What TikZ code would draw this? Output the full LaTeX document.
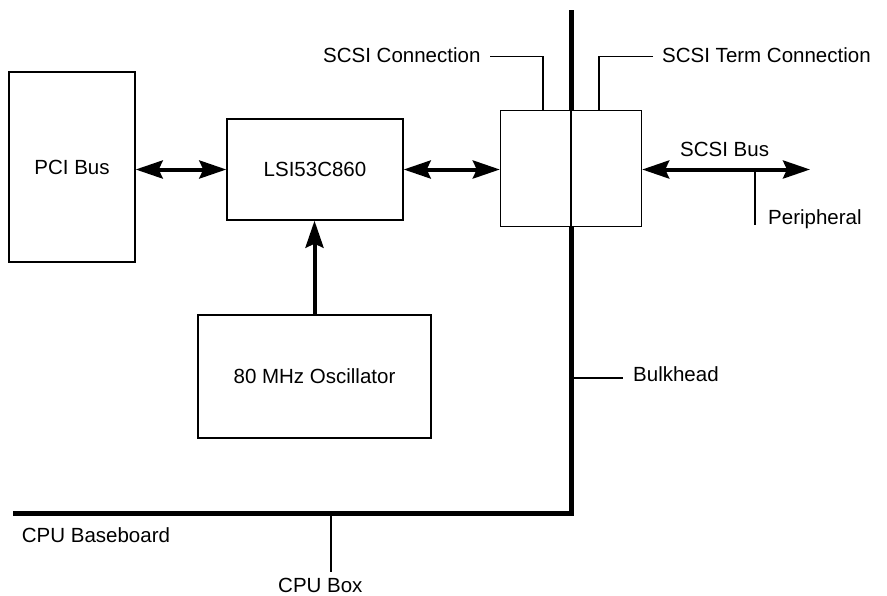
\documentclass[tikz,border=0pt]{standalone}
\usepackage{fontspec}
\setmainfont{Liberation Sans}
\usetikzlibrary{arrows.meta}
\begin{document}
\begin{tikzpicture}[x=1pt,y=-1pt,
  box/.style={draw, line width=1.4pt, inner sep=0pt, font=\fontsize{20.5}{24}\selectfont},
  lbl/.style={inner sep=0pt, anchor=base west, font=\fontsize{20.5}{24}\selectfont},
  leader/.style={line width=1.4pt},
  wall/.style={line width=5pt},
  big/.style={line width=4pt, arrows={Stealth[length=27pt,width=18pt,inset=4pt]-Stealth[length=27pt,width=18pt,inset=4pt]}},
  bigup/.style={line width=4pt, arrows={-Stealth[length=27pt,width=18pt,inset=4pt]}},
  ]
\useasboundingbox (0,0) rectangle (887,595);

% boxes
\node[box, minimum width=126pt, minimum height=190pt] (pci) at (72,167) {PCI Bus};
\node[box, minimum width=176pt, minimum height=101pt] (lsi) at (315,169.5) {LSI53C860};
\node[box, minimum width=233pt, minimum height=123pt] (osc) at (314.5,376.5) {80 MHz Oscillator};
\node[box, minimum width=141pt, minimum height=115.5pt] (conn) at (571,168.5) {};

% coordinates
\coordinate (bulktop) at (571,10);
\coordinate (corner) at (571,513.5);
\coordinate (baseleft) at (12.7,513.5);
\coordinate (busend) at (810,169.5);
\coordinate (periph) at (755,225);
\coordinate (scl) at (490,56.7);
\coordinate (stl) at (653,56.7);
\coordinate (bk) at (623,378);
\coordinate (cb) at (331,572);

% bulkhead and baseboard
\draw[wall] (bulktop) -- (conn.north);
\draw[wall] (conn.south) -- (corner) -- (baseleft);
\draw[leader] (conn.north) -- (conn.south);

% arrows
\draw[big] (pci.east |- lsi.west) -- (lsi.west);
\draw[big] (lsi.east) -- (lsi.east -| conn.west);
\draw[bigup] (osc.north) -- (osc.north |- lsi.south);
\draw[big] (conn.east |- busend) -- (busend);

% leaders
\draw[leader] (periph |- busend) -- (periph);
\draw[leader] (scl) -| ([xshift=-28pt]conn.north);
\draw[leader] (stl) -| ([xshift=28pt]conn.north);
\draw[leader] (bk -| corner) -- (bk);
\draw[leader] (cb |- corner) -- (cb);

% labels
\node[lbl] (t1) at (323,62) {SCSI Connection};
\node[lbl] (t2) at (662,62) {SCSI Term Connection};
\node[lbl] (t3) at (680,156) {SCSI Bus};
\node[lbl] (t4) at (768,224) {Peripheral};
\node[lbl] (t5) at (633,381) {Bulkhead};
\node[lbl] (t6) at (21.7,542) {CPU Baseboard};
\node[lbl] (t7) at (278,592) {CPU Box};
\end{tikzpicture}
\end{document}
